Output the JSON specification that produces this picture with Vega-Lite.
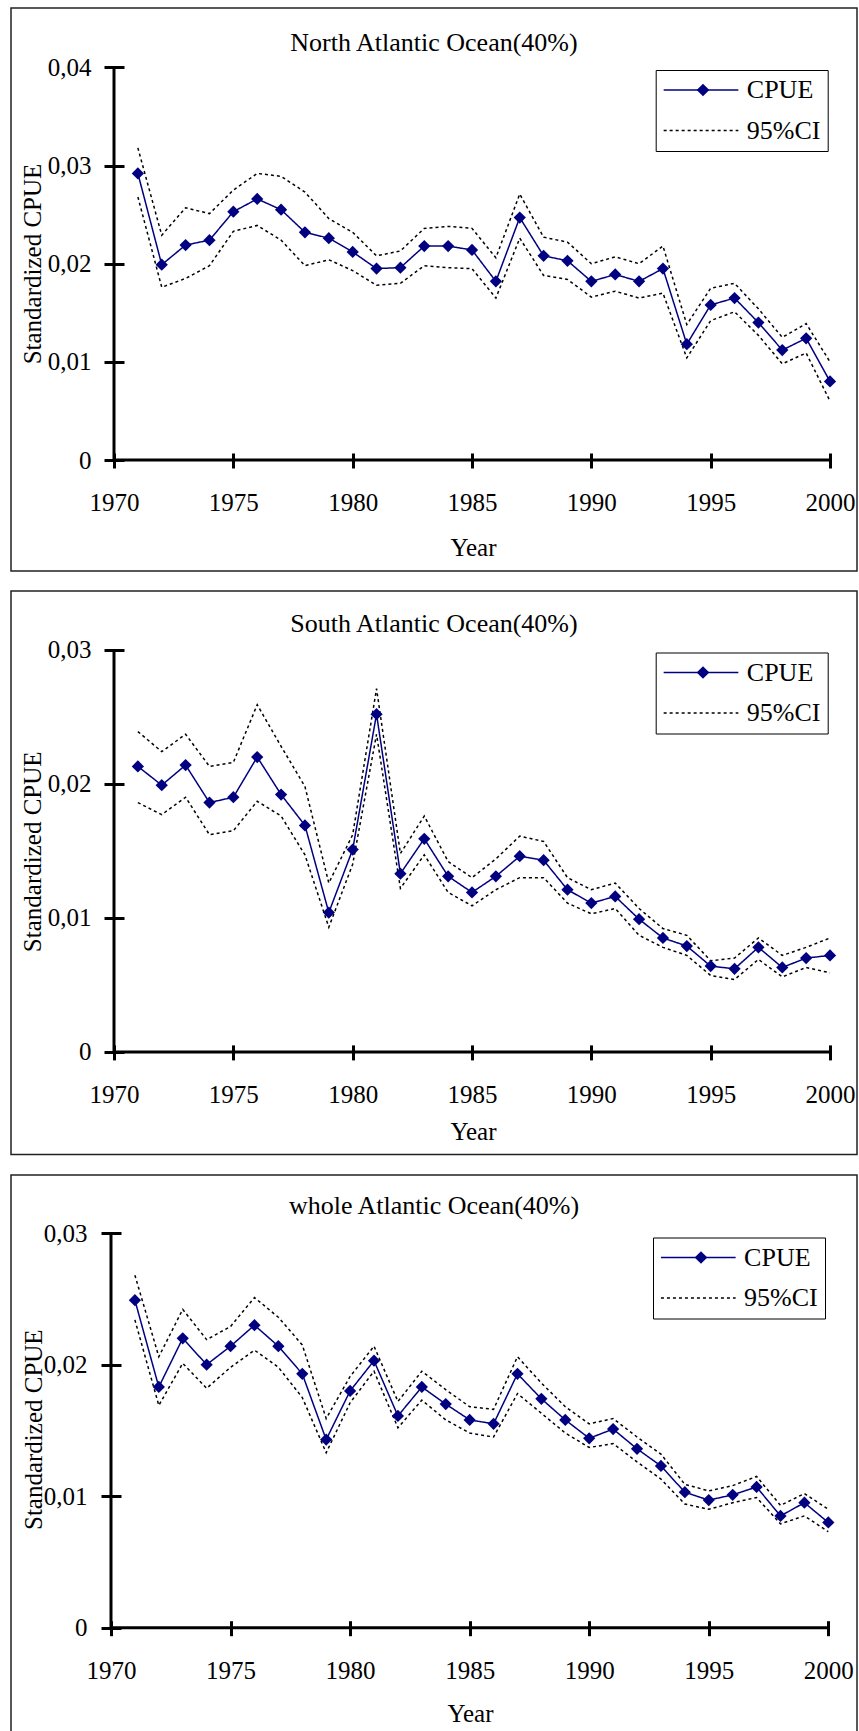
{
  "$schema": "https://vega.github.io/schema/vega-lite/v6.json",
  "padding": {"left": 10, "top": 7, "right": 0, "bottom": 0},
  "spacing": 18,
  "background": "white",
  "config": {
    "view": {"stroke": "#222222", "strokeWidth": 1.5},
    "axis": {"grid": false, "domain": false, "tickColor": "black", "tickWidth": 3, "labelFont": "Liberation Serif", "labelFontSize": 25, "labelColor": "black", "titleFont": "Liberation Serif", "titleFontSize": 25, "titleFontWeight": "normal", "titleColor": "black", "labelFlush": false, "labelOverlap": false},
    "title": {"font": "Liberation Serif", "fontSize": 26, "fontWeight": "normal", "color": "black", "anchor": "middle", "frame": "group", "baseline": "middle"},
    "legend": {"orient": "none", "padding": 7, "rowPadding": 14.6, "strokeColor": "black", "fillColor": "white", "labelFont": "Liberation Serif", "labelFontSize": 26, "labelColor": "black", "symbolSize": 324, "symbolOffset": 25.3, "labelOffset": 32.8, "symbolStrokeWidth": 1.5, "symbolType": "M-4.15,0L4.15,0", "symbolOpacity": 1}
  },
  "resolve": {"scale": {"x": "independent", "y": "independent", "color": "independent", "strokeDash": "independent", "shape": "independent"}, "axis": {"x": "independent", "y": "independent"}, "legend": {"color": "independent", "strokeDash": "independent", "shape": "independent"}},
  "datasets": {
    "north": [
      {"year": 1971, "cpue": 0.0292, "lo": 0.0268, "hi": 0.0318},
      {"year": 1972, "cpue": 0.0199, "lo": 0.0176, "hi": 0.0229},
      {"year": 1973, "cpue": 0.0219, "lo": 0.0185, "hi": 0.0257},
      {"year": 1974, "cpue": 0.0224, "lo": 0.0198, "hi": 0.0251},
      {"year": 1975, "cpue": 0.0253, "lo": 0.0233, "hi": 0.0275},
      {"year": 1976, "cpue": 0.0266, "lo": 0.0239, "hi": 0.0292},
      {"year": 1977, "cpue": 0.0255, "lo": 0.0224, "hi": 0.0289},
      {"year": 1978, "cpue": 0.0232, "lo": 0.0198, "hi": 0.0273},
      {"year": 1979, "cpue": 0.0226, "lo": 0.0204, "hi": 0.0246},
      {"year": 1980, "cpue": 0.0212, "lo": 0.0193, "hi": 0.0232},
      {"year": 1981, "cpue": 0.0195, "lo": 0.0178, "hi": 0.0208},
      {"year": 1982, "cpue": 0.0196, "lo": 0.0180, "hi": 0.0213},
      {"year": 1983, "cpue": 0.0218, "lo": 0.0198, "hi": 0.0236},
      {"year": 1984, "cpue": 0.0218, "lo": 0.0196, "hi": 0.0238},
      {"year": 1985, "cpue": 0.0214, "lo": 0.0195, "hi": 0.0236},
      {"year": 1986, "cpue": 0.0182, "lo": 0.0165, "hi": 0.0206},
      {"year": 1987, "cpue": 0.0247, "lo": 0.0226, "hi": 0.0271},
      {"year": 1988, "cpue": 0.0208, "lo": 0.0188, "hi": 0.0227},
      {"year": 1989, "cpue": 0.0203, "lo": 0.0184, "hi": 0.0222},
      {"year": 1990, "cpue": 0.0182, "lo": 0.0166, "hi": 0.0200},
      {"year": 1991, "cpue": 0.0189, "lo": 0.0172, "hi": 0.0207},
      {"year": 1992, "cpue": 0.0182, "lo": 0.0165, "hi": 0.0200},
      {"year": 1993, "cpue": 0.0195, "lo": 0.0170, "hi": 0.0218},
      {"year": 1994, "cpue": 0.0118, "lo": 0.0104, "hi": 0.0138},
      {"year": 1995, "cpue": 0.0158, "lo": 0.0142, "hi": 0.0175},
      {"year": 1996, "cpue": 0.0165, "lo": 0.0151, "hi": 0.0180},
      {"year": 1997, "cpue": 0.0140, "lo": 0.0127, "hi": 0.0154},
      {"year": 1998, "cpue": 0.0112, "lo": 0.0098, "hi": 0.0125},
      {"year": 1999, "cpue": 0.0124, "lo": 0.0109, "hi": 0.0139},
      {"year": 2000, "cpue": 0.0080, "lo": 0.0060, "hi": 0.0100}
    ],
    "south": [
      {"year": 1971, "cpue": 0.0213, "lo": 0.0186, "hi": 0.0239},
      {"year": 1972, "cpue": 0.0199, "lo": 0.0177, "hi": 0.0224},
      {"year": 1973, "cpue": 0.0214, "lo": 0.0190, "hi": 0.0237},
      {"year": 1974, "cpue": 0.0186, "lo": 0.0162, "hi": 0.0213},
      {"year": 1975, "cpue": 0.0190, "lo": 0.0165, "hi": 0.0216},
      {"year": 1976, "cpue": 0.0220, "lo": 0.0187, "hi": 0.0259},
      {"year": 1977, "cpue": 0.0192, "lo": 0.0176, "hi": 0.0228},
      {"year": 1978, "cpue": 0.0169, "lo": 0.0147, "hi": 0.0198},
      {"year": 1979, "cpue": 0.0104, "lo": 0.0093, "hi": 0.0126},
      {"year": 1980, "cpue": 0.0151, "lo": 0.0140, "hi": 0.0162},
      {"year": 1981, "cpue": 0.0252, "lo": 0.0237, "hi": 0.0271},
      {"year": 1982, "cpue": 0.0133, "lo": 0.0122, "hi": 0.0148},
      {"year": 1983, "cpue": 0.0159, "lo": 0.0147, "hi": 0.0176},
      {"year": 1984, "cpue": 0.0131, "lo": 0.0119, "hi": 0.0142},
      {"year": 1985, "cpue": 0.0119, "lo": 0.0109, "hi": 0.0130},
      {"year": 1986, "cpue": 0.0131, "lo": 0.0121, "hi": 0.0144},
      {"year": 1987, "cpue": 0.0146, "lo": 0.0130, "hi": 0.0161},
      {"year": 1988, "cpue": 0.0143, "lo": 0.0130, "hi": 0.0157},
      {"year": 1989, "cpue": 0.0121, "lo": 0.0111, "hi": 0.0130},
      {"year": 1990, "cpue": 0.0111, "lo": 0.0103, "hi": 0.0121},
      {"year": 1991, "cpue": 0.0116, "lo": 0.0107, "hi": 0.0126},
      {"year": 1992, "cpue": 0.0099, "lo": 0.0087, "hi": 0.0107},
      {"year": 1993, "cpue": 0.0085, "lo": 0.0078, "hi": 0.0092},
      {"year": 1994, "cpue": 0.0079, "lo": 0.0072, "hi": 0.0087},
      {"year": 1995, "cpue": 0.0064, "lo": 0.0057, "hi": 0.0068},
      {"year": 1996, "cpue": 0.0062, "lo": 0.0054, "hi": 0.0070},
      {"year": 1997, "cpue": 0.0078, "lo": 0.0069, "hi": 0.0085},
      {"year": 1998, "cpue": 0.0063, "lo": 0.0056, "hi": 0.0072},
      {"year": 1999, "cpue": 0.0070, "lo": 0.0063, "hi": 0.0078},
      {"year": 2000, "cpue": 0.0072, "lo": 0.0059, "hi": 0.0085}
    ],
    "whole": [
      {"year": 1971, "cpue": 0.0249, "lo": 0.0234, "hi": 0.0268},
      {"year": 1972, "cpue": 0.0183, "lo": 0.0169, "hi": 0.0206},
      {"year": 1973, "cpue": 0.0220, "lo": 0.0201, "hi": 0.0242},
      {"year": 1974, "cpue": 0.0200, "lo": 0.0182, "hi": 0.0219},
      {"year": 1975, "cpue": 0.0214, "lo": 0.0198, "hi": 0.0229},
      {"year": 1976, "cpue": 0.0230, "lo": 0.0211, "hi": 0.0251},
      {"year": 1977, "cpue": 0.0214, "lo": 0.0198, "hi": 0.0236},
      {"year": 1978, "cpue": 0.0193, "lo": 0.0175, "hi": 0.0215},
      {"year": 1979, "cpue": 0.0143, "lo": 0.0133, "hi": 0.0159},
      {"year": 1980, "cpue": 0.0180, "lo": 0.0171, "hi": 0.0191},
      {"year": 1981, "cpue": 0.0203, "lo": 0.0195, "hi": 0.0214},
      {"year": 1982, "cpue": 0.0161, "lo": 0.0152, "hi": 0.0172},
      {"year": 1983, "cpue": 0.0183, "lo": 0.0173, "hi": 0.0195},
      {"year": 1984, "cpue": 0.0170, "lo": 0.0158, "hi": 0.0181},
      {"year": 1985, "cpue": 0.0158, "lo": 0.0148, "hi": 0.0168},
      {"year": 1986, "cpue": 0.0155, "lo": 0.0145, "hi": 0.0166},
      {"year": 1987, "cpue": 0.0193, "lo": 0.0178, "hi": 0.0206},
      {"year": 1988, "cpue": 0.0174, "lo": 0.0163, "hi": 0.0186},
      {"year": 1989, "cpue": 0.0158, "lo": 0.0148, "hi": 0.0168},
      {"year": 1990, "cpue": 0.0144, "lo": 0.0137, "hi": 0.0155},
      {"year": 1991, "cpue": 0.0151, "lo": 0.0140, "hi": 0.0159},
      {"year": 1992, "cpue": 0.0136, "lo": 0.0126, "hi": 0.0145},
      {"year": 1993, "cpue": 0.0123, "lo": 0.0113, "hi": 0.0132},
      {"year": 1994, "cpue": 0.0103, "lo": 0.0094, "hi": 0.0109},
      {"year": 1995, "cpue": 0.0097, "lo": 0.0090, "hi": 0.0104},
      {"year": 1996, "cpue": 0.0101, "lo": 0.0095, "hi": 0.0108},
      {"year": 1997, "cpue": 0.0107, "lo": 0.0099, "hi": 0.0115},
      {"year": 1998, "cpue": 0.0085, "lo": 0.0079, "hi": 0.0093},
      {"year": 1999, "cpue": 0.0095, "lo": 0.0085, "hi": 0.0102},
      {"year": 2000, "cpue": 0.0080, "lo": 0.0073, "hi": 0.0090}
    ]
  },
  "vconcat": [
    {
      "width": 846, "height": 563,
      "title": {"text": "North Atlantic Ocean(40%)", "offset": -48.2},
      "data": {"name": "north"},
      "layer": [
        {"data": {"values": [{}]}, "mark": {"type": "rule", "color": "black", "strokeWidth": 3},
         "encoding": {"x": {"datum": 1970, "type": "quantitative", "scale": {"domain": [1965.684, 2001.131], "nice": false, "zero": false}}, "x2": {"datum": 2000},
                      "y": {"datum": 0, "type": "quantitative", "scale": {"domain": [-0.011309, 0.046052], "nice": false, "zero": false}}}},
        {"data": {"values": [{}]}, "mark": {"type": "rule", "color": "black", "strokeWidth": 3},
         "encoding": {"x": {"datum": 1970, "type": "quantitative", "scale": {"domain": [1965.684, 2001.131], "nice": false, "zero": false}},
                      "y": {"datum": 0, "type": "quantitative", "scale": {"domain": [-0.011309, 0.046052], "nice": false, "zero": false}}, "y2": {"datum": 0.04}}},
        {"mark": {"type": "line", "strokeWidth": 1.5},
         "encoding": {
           "x": {"field": "year", "type": "quantitative", "scale": {"domain": [1965.684, 2001.131], "nice": false, "zero": false},
                 "axis": {"values": [1970, 1975, 1980, 1985, 1990, 1995, 2000], "format": "d", "offset": -118, "tickSize": 15, "labelPadding": 22.1, "title": "Year", "titleX": 462, "titleY": 94.3, "titleBaseline": "middle"}},
           "y": {"field": "lo", "type": "quantitative", "scale": {"domain": [-0.011309, 0.046052], "nice": false, "zero": false},
                 "axis": {"values": [0, 0.01, 0.02, 0.03, 0.04], "labelExpr": "replace(format(datum.value, '.2~f'), '.', ',')", "offset": -113, "tickSize": 20, "labelPadding": 13, "title": "Standardized CPUE", "titleX": -92, "titleY": 255.5, "titleBaseline": "middle"}},
           "color": {"datum": "95%CI", "type": "nominal", "scale": {"domain": ["CPUE", "95%CI"], "range": ["#000080", "#000000"]},
                     "legend": {"title": null, "legendX": 644.7, "legendY": 62}},
           "strokeDash": {"datum": "95%CI", "type": "nominal", "scale": {"domain": ["CPUE", "95%CI"], "range": [[1, 0], [3, 3]]}, "legend": {"title": null, "legendX": 644.7, "legendY": 62}}}},
        {"mark": {"type": "line", "strokeWidth": 1.5},
         "encoding": {
           "x": {"field": "year", "type": "quantitative", "scale": {"domain": [1965.684, 2001.131], "nice": false, "zero": false}},
           "y": {"field": "hi", "type": "quantitative", "scale": {"domain": [-0.011309, 0.046052], "nice": false, "zero": false}},
           "color": {"datum": "95%CI", "type": "nominal"},
           "strokeDash": {"datum": "95%CI", "type": "nominal"}}},
        {"mark": {"type": "line", "strokeWidth": 1.5},
         "encoding": {
           "x": {"field": "year", "type": "quantitative", "scale": {"domain": [1965.684, 2001.131], "nice": false, "zero": false}},
           "y": {"field": "cpue", "type": "quantitative", "scale": {"domain": [-0.011309, 0.046052], "nice": false, "zero": false}},
           "color": {"datum": "CPUE", "type": "nominal"},
           "strokeDash": {"datum": "CPUE", "type": "nominal"}}},
        {"mark": {"type": "point", "filled": true, "size": 150, "opacity": 1},
         "encoding": {
           "x": {"field": "year", "type": "quantitative", "scale": {"domain": [1965.684, 2001.131], "nice": false, "zero": false}},
           "y": {"field": "cpue", "type": "quantitative", "scale": {"domain": [-0.011309, 0.046052], "nice": false, "zero": false}},
           "color": {"datum": "CPUE", "type": "nominal"},
           "shape": {"datum": "CPUE", "type": "nominal", "scale": {"domain": ["CPUE"], "range": ["diamond"]},
                     "legend": {"title": null, "labelExpr": "''", "strokeColor": "transparent", "fillColor": "transparent", "padding": 0, "symbolSize": 160, "symbolOffset": 0, "symbolType": "diamond", "symbolStrokeWidth": 0, "symbolFillColor": "#000080", "legendX": 679, "legendY": 69}}}}
      ]
    },
    {
      "width": 846, "height": 563.5,
      "title": {"text": "South Atlantic Ocean(40%)", "offset": -46.2},
      "data": {"name": "south"},
      "layer": [
        {"data": {"values": [{}]}, "mark": {"type": "rule", "color": "black", "strokeWidth": 3},
         "encoding": {"x": {"datum": 1970, "type": "quantitative", "scale": {"domain": [1965.684, 2001.131], "nice": false, "zero": false}}, "x2": {"datum": 2000},
                      "y": {"datum": 0, "type": "quantitative", "scale": {"domain": [-0.0076548, 0.034387], "nice": false, "zero": false}}}},
        {"data": {"values": [{}]}, "mark": {"type": "rule", "color": "black", "strokeWidth": 3},
         "encoding": {"x": {"datum": 1970, "type": "quantitative", "scale": {"domain": [1965.684, 2001.131], "nice": false, "zero": false}},
                      "y": {"datum": 0, "type": "quantitative", "scale": {"domain": [-0.0076548, 0.034387], "nice": false, "zero": false}}, "y2": {"datum": 0.03}}},
        {"mark": {"type": "line", "strokeWidth": 1.5},
         "encoding": {
           "x": {"field": "year", "type": "quantitative", "scale": {"domain": [1965.684, 2001.131], "nice": false, "zero": false},
                 "axis": {"values": [1970, 1975, 1980, 1985, 1990, 1995, 2000], "format": "d", "offset": -109.6, "tickSize": 15, "labelPadding": 22.7, "title": "Year", "titleX": 462, "titleY": 86.2, "titleBaseline": "middle"}},
           "y": {"field": "lo", "type": "quantitative", "scale": {"domain": [-0.0076548, 0.034387], "nice": false, "zero": false},
                 "axis": {"values": [0, 0.01, 0.02, 0.03], "labelExpr": "replace(format(datum.value, '.2~f'), '.', ',')", "offset": -113, "tickSize": 20, "labelPadding": 13, "title": "Standardized CPUE", "titleX": -92, "titleY": 260.3, "titleBaseline": "middle"}},
           "color": {"datum": "95%CI", "type": "nominal", "scale": {"domain": ["CPUE", "95%CI"], "range": ["#000080", "#000000"]},
                     "legend": {"title": null, "legendX": 644.7, "legendY": 61.5}},
           "strokeDash": {"datum": "95%CI", "type": "nominal", "scale": {"domain": ["CPUE", "95%CI"], "range": [[1, 0], [3, 3]]}, "legend": {"title": null, "legendX": 644.7, "legendY": 61.5}}}},
        {"mark": {"type": "line", "strokeWidth": 1.5},
         "encoding": {
           "x": {"field": "year", "type": "quantitative", "scale": {"domain": [1965.684, 2001.131], "nice": false, "zero": false}},
           "y": {"field": "hi", "type": "quantitative", "scale": {"domain": [-0.0076548, 0.034387], "nice": false, "zero": false}},
           "color": {"datum": "95%CI", "type": "nominal"},
           "strokeDash": {"datum": "95%CI", "type": "nominal"}}},
        {"mark": {"type": "line", "strokeWidth": 1.5},
         "encoding": {
           "x": {"field": "year", "type": "quantitative", "scale": {"domain": [1965.684, 2001.131], "nice": false, "zero": false}},
           "y": {"field": "cpue", "type": "quantitative", "scale": {"domain": [-0.0076548, 0.034387], "nice": false, "zero": false}},
           "color": {"datum": "CPUE", "type": "nominal"},
           "strokeDash": {"datum": "CPUE", "type": "nominal"}}},
        {"mark": {"type": "point", "filled": true, "size": 150, "opacity": 1},
         "encoding": {
           "x": {"field": "year", "type": "quantitative", "scale": {"domain": [1965.684, 2001.131], "nice": false, "zero": false}},
           "y": {"field": "cpue", "type": "quantitative", "scale": {"domain": [-0.0076548, 0.034387], "nice": false, "zero": false}},
           "color": {"datum": "CPUE", "type": "nominal"},
           "shape": {"datum": "CPUE", "type": "nominal", "scale": {"domain": ["CPUE"], "range": ["diamond"]},
                     "legend": {"title": null, "labelExpr": "''", "strokeColor": "transparent", "fillColor": "transparent", "padding": 0, "symbolSize": 160, "symbolOffset": 0, "symbolType": "diamond", "symbolStrokeWidth": 0, "symbolFillColor": "#000080", "legendX": 679, "legendY": 68.5}}}}
      ]
    },
    {
      "width": 846, "height": 559.5,
      "title": {"text": "whole Atlantic Ocean(40%)", "offset": -44},
      "data": {"name": "whole"},
      "layer": [
        {"data": {"values": [{}]}, "mark": {"type": "rule", "color": "black", "strokeWidth": 3},
         "encoding": {"x": {"datum": 1970, "type": "quantitative", "scale": {"domain": [1965.818, 2001.2], "nice": false, "zero": false}}, "x2": {"datum": 2000},
                      "y": {"datum": 0, "type": "quantitative", "scale": {"domain": [-0.0081196, 0.0344172], "nice": false, "zero": false}}}},
        {"data": {"values": [{}]}, "mark": {"type": "rule", "color": "black", "strokeWidth": 3},
         "encoding": {"x": {"datum": 1970, "type": "quantitative", "scale": {"domain": [1965.818, 2001.2], "nice": false, "zero": false}},
                      "y": {"datum": 0, "type": "quantitative", "scale": {"domain": [-0.0081196, 0.0344172], "nice": false, "zero": false}}, "y2": {"datum": 0.03}}},
        {"mark": {"type": "line", "strokeWidth": 1.5},
         "encoding": {
           "x": {"field": "year", "type": "quantitative", "scale": {"domain": [1965.818, 2001.2], "nice": false, "zero": false},
                 "axis": {"values": [1970, 1975, 1980, 1985, 1990, 1995, 2000], "format": "d", "offset": -113.8, "tickSize": 15, "labelPadding": 22.7, "title": "Year", "titleX": 459, "titleY": 92.5, "titleBaseline": "middle"}},
           "y": {"field": "lo", "type": "quantitative", "scale": {"domain": [-0.0081196, 0.0344172], "nice": false, "zero": false},
                 "axis": {"values": [0, 0.01, 0.02, 0.03], "labelExpr": "replace(format(datum.value, '.2~f'), '.', ',')", "offset": -110, "tickSize": 20, "labelPadding": 14, "title": "Standardized CPUE", "titleX": -88, "titleY": 254.2, "titleBaseline": "middle"}},
           "color": {"datum": "95%CI", "type": "nominal", "scale": {"domain": ["CPUE", "95%CI"], "range": ["#000080", "#000000"]},
                     "legend": {"title": null, "legendX": 642, "legendY": 62.5}},
           "strokeDash": {"datum": "95%CI", "type": "nominal", "scale": {"domain": ["CPUE", "95%CI"], "range": [[1, 0], [3, 3]]}, "legend": {"title": null, "legendX": 642, "legendY": 62.5}}}},
        {"mark": {"type": "line", "strokeWidth": 1.5},
         "encoding": {
           "x": {"field": "year", "type": "quantitative", "scale": {"domain": [1965.818, 2001.2], "nice": false, "zero": false}},
           "y": {"field": "hi", "type": "quantitative", "scale": {"domain": [-0.0081196, 0.0344172], "nice": false, "zero": false}},
           "color": {"datum": "95%CI", "type": "nominal"},
           "strokeDash": {"datum": "95%CI", "type": "nominal"}}},
        {"mark": {"type": "line", "strokeWidth": 1.5},
         "encoding": {
           "x": {"field": "year", "type": "quantitative", "scale": {"domain": [1965.818, 2001.2], "nice": false, "zero": false}},
           "y": {"field": "cpue", "type": "quantitative", "scale": {"domain": [-0.0081196, 0.0344172], "nice": false, "zero": false}},
           "color": {"datum": "CPUE", "type": "nominal"},
           "strokeDash": {"datum": "CPUE", "type": "nominal"}}},
        {"mark": {"type": "point", "filled": true, "size": 150, "opacity": 1},
         "encoding": {
           "x": {"field": "year", "type": "quantitative", "scale": {"domain": [1965.818, 2001.2], "nice": false, "zero": false}},
           "y": {"field": "cpue", "type": "quantitative", "scale": {"domain": [-0.0081196, 0.0344172], "nice": false, "zero": false}},
           "color": {"datum": "CPUE", "type": "nominal"},
           "shape": {"datum": "CPUE", "type": "nominal", "scale": {"domain": ["CPUE"], "range": ["diamond"]},
                     "legend": {"title": null, "labelExpr": "''", "strokeColor": "transparent", "fillColor": "transparent", "padding": 0, "symbolSize": 160, "symbolOffset": 0, "symbolType": "diamond", "symbolStrokeWidth": 0, "symbolFillColor": "#000080", "legendX": 677, "legendY": 69.5}}}}
      ]
    }
  ]
}
